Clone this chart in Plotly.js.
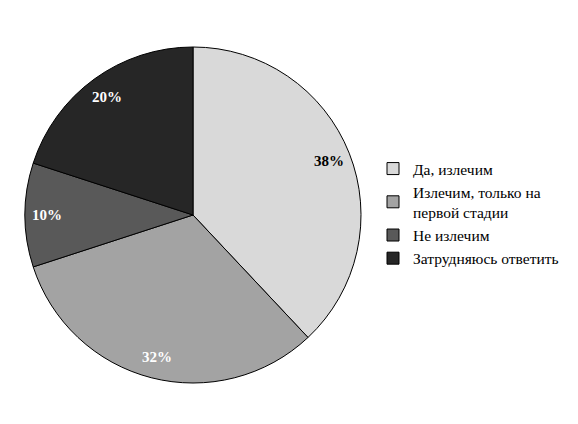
<!DOCTYPE html>
<html><head><meta charset="utf-8">
<script src="https://cdn.plot.ly/plotly-3.0.1.min.js"></script>
<style>html,body{margin:0;padding:0;background:#fff;overflow:hidden}#c{width:578px;height:424px}</style>
</head><body><div id="c"></div>
<script>
const labels = ["Да, излечим", "Излечим, только на<br>первой стадии", "Не излечим", "Затрудняюсь ответить"];
const values = [38, 32, 10, 20];
const colors = ["#d9d9d9", "#a3a3a3", "#595959", "#262626"];
const textColors = ["#000000", "#ffffff", "#ffffff", "#ffffff"];

const W = 578, H = 424;
const cx = 193, cy = 215, R = 168;
const dom = {x: [(cx - R) / W, (cx + R) / W], y: [(H - cy - R) / H, (H - cy + R) / H]};

const total = values.reduce((a, b) => a + b, 0);
let cum = 0;
const annotations = values.map((v, i) => {
  const mid = (cum + v / 2) / total;
  cum += v;
  const ang = Math.PI / 2 - mid * 2 * Math.PI;
  const rr = R * 0.87;
  const px = cx + rr * Math.cos(ang);
  const py = cy - rr * Math.sin(ang);
  return {
    x: px / W, y: 1 - py / H, xref: "paper", yref: "paper",
    text: "<b>" + Math.round(v / total * 100) + "%</b>", showarrow: false,
    font: {family: "Liberation Serif", size: 15, color: textColors[i]},
    xanchor: "center", yanchor: "middle"
  };
});

Plotly.newPlot("c", [{
  type: "pie", labels: labels, values: values, sort: false, direction: "clockwise",
  rotation: 0, textinfo: "none", hoverinfo: "none",
  marker: {colors: colors, line: {color: "#000000", width: 1}},
  domain: dom
}], {
  width: W, height: H, margin: {l: 0, r: 0, t: 0, b: 0, pad: 0, autoexpand: false},
  paper_bgcolor: "#ffffff", plot_bgcolor: "#ffffff",
  showlegend: true,
  legend: {x: 373 / W, xanchor: "left", y: 1 - 152 / H, yanchor: "top",
    font: {family: "Liberation Serif", size: 15.5, color: "#000000"},
    itemwidth: 30, tracegroupgap: 0, bgcolor: "rgba(0,0,0,0)"},
  annotations: annotations
}, {staticPlot: true});
</script></body></html>
